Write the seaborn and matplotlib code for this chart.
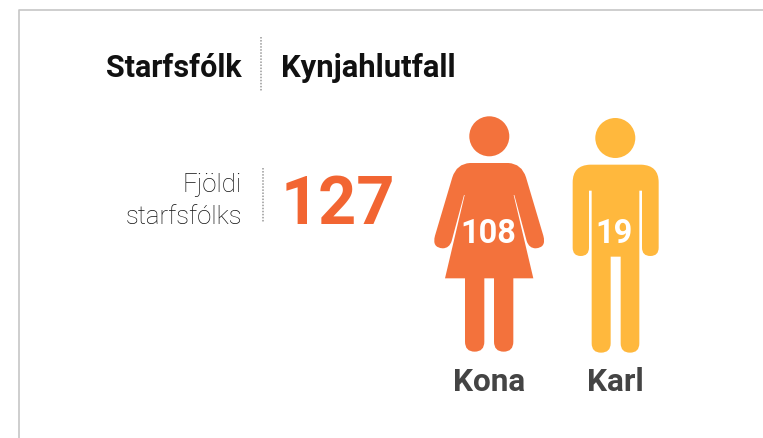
import pandas as pd
import matplotlib.pyplot as plt
import seaborn as sns
from matplotlib.path import Path
from matplotlib.patches import PathPatch

# Data
kyn = ['Kona', 'Karl']
fjoldi = [108, 19]
heild = 127
litir = ['#F3723C', '#FFB83D']

sns.set_style('white')
plt.rcParams['font.family'] = ['Roboto', 'DejaVu Sans']

fig = plt.figure(figsize=(7.63, 4.39), dpi=100)
ax = fig.add_axes([0, 0, 1, 1])
ax.set_xlim(0, 763)
ax.set_ylim(439, 0)
ax.axis('off')

# Rammi
ax.plot([19, 19, 763], [439, 10.5, 10.5], color='#c6c6c6', lw=1.2)

# Punktalinur
ax.plot([261, 261], [38, 93], color='#999999', lw=1.1, ls=(0, (1, 1)))
ax.plot([263, 263], [169, 224], color='#999999', lw=1.1, ls=(0, (1, 1)))

# Fyrirsagnir
ax.text(242, 77, 'Starfsfólk', ha='right', va='baseline', fontsize=22, fontweight='bold', color='#111111')
ax.text(281, 77, 'Kynjahlutfall', ha='left', va='baseline', fontsize=22.3, fontweight='bold', color='#111111')
ax.text(242, 192, 'Fjöldi', ha='right', va='baseline', fontsize=18.5, fontweight='light', color='#111111')
ax.text(242, 224, 'starfsfólks', ha='right', va='baseline', fontsize=18.5, fontweight='light', color='#111111')
ax.text(281, 224, str(heild), ha='left', va='baseline', fontsize=48, fontweight='bold', color='#F26532')

# Hofud
df = pd.DataFrame({'Kyn': kyn, 'Fjoldi': fjoldi, 'x': [489.3, 615.3], 'y': [137.3, 139]})
sns.scatterplot(data=df, x='x', y='y', hue='Kyn', palette=litir, s=830, linewidth=0, legend=False, ax=ax)
ax.set_xlim(0, 763)
ax.set_ylim(439, 0)
ax.set_xlabel('')
ax.set_ylabel('')


def hluti(pts):
    # M = moveto, L = lineto, Q = tvo punkta boginn
    verts, codes = [], []
    for p in pts:
        if p[0] == 'M':
            verts.append(p[1]); codes.append(Path.MOVETO)
        elif p[0] == 'L':
            verts.append(p[1]); codes.append(Path.LINETO)
        else:
            verts += [p[1], p[2]]; codes += [Path.CURVE3, Path.CURVE3]
    verts.append(verts[0]); codes.append(Path.CLOSEPOLY)
    return Path([(420 + x / 3, 110 + y / 3) for x, y in verts], codes)


kona = [
    ('M', (150, 162)), ('L', (265, 162)), ('Q', (305, 164), (318, 205)),
    ('L', (370, 380)), ('Q', (380, 416), (347, 418)), ('Q', (327, 418), (320, 396)),
    ('L', (283, 258)), ('L', (281, 258)), ('L', (340, 508)), ('L', (280, 508)),
    ('L', (280, 698)), ('Q', (280, 728), (251, 728)), ('Q', (222, 728), (222, 698)),
    ('L', (222, 508)), ('L', (193, 508)), ('L', (193, 698)), ('Q', (193, 728), (164, 728)),
    ('Q', (135, 728), (135, 698)), ('L', (135, 508)), ('L', (75, 508)),
    ('L', (134, 258)), ('L', (132, 258)), ('L', (95, 396)), ('Q', (88, 418), (68, 418)),
    ('Q', (35, 416), (45, 380)), ('L', (97, 205)), ('Q', (110, 164), (150, 162)),
]
karl = [
    ('M', (510, 167)), ('L', (664, 167)), ('Q', (716, 169), (716, 220)),
    ('L', (716, 416)), ('Q', (716, 441), (691, 441)), ('Q', (666, 441), (666, 416)),
    ('L', (666, 245)), ('L', (658, 245)), ('L', (658, 703)), ('Q', (658, 731), (630, 731)),
    ('Q', (602, 731), (602, 703)), ('L', (602, 443)), ('L', (572, 443)), ('L', (572, 703)),
    ('Q', (572, 731), (543, 731)), ('Q', (515, 731), (515, 703)), ('L', (515, 245)),
    ('L', (507, 245)), ('L', (507, 416)), ('Q', (507, 441), (482, 441)),
    ('Q', (458, 441), (458, 416)), ('L', (458, 220)), ('Q', (458, 169), (510, 167)),
]
for form, litur in zip([kona, karl], litir):
    ax.add_patch(PathPatch(hluti(form), facecolor=litur, edgecolor='none'))

# Tolur og heiti
for i, row in df.iterrows():
    ax.text(row['x'] - 1, 243, str(row['Fjoldi']), ha='center', va='baseline', fontsize=23.5, fontweight='bold', color='white')
    ax.text(row['x'], 391, row['Kyn'], ha='center', va='baseline', fontsize=22.7, fontweight='bold', color='#444444')

plt.savefig('out.png', dpi=100)
